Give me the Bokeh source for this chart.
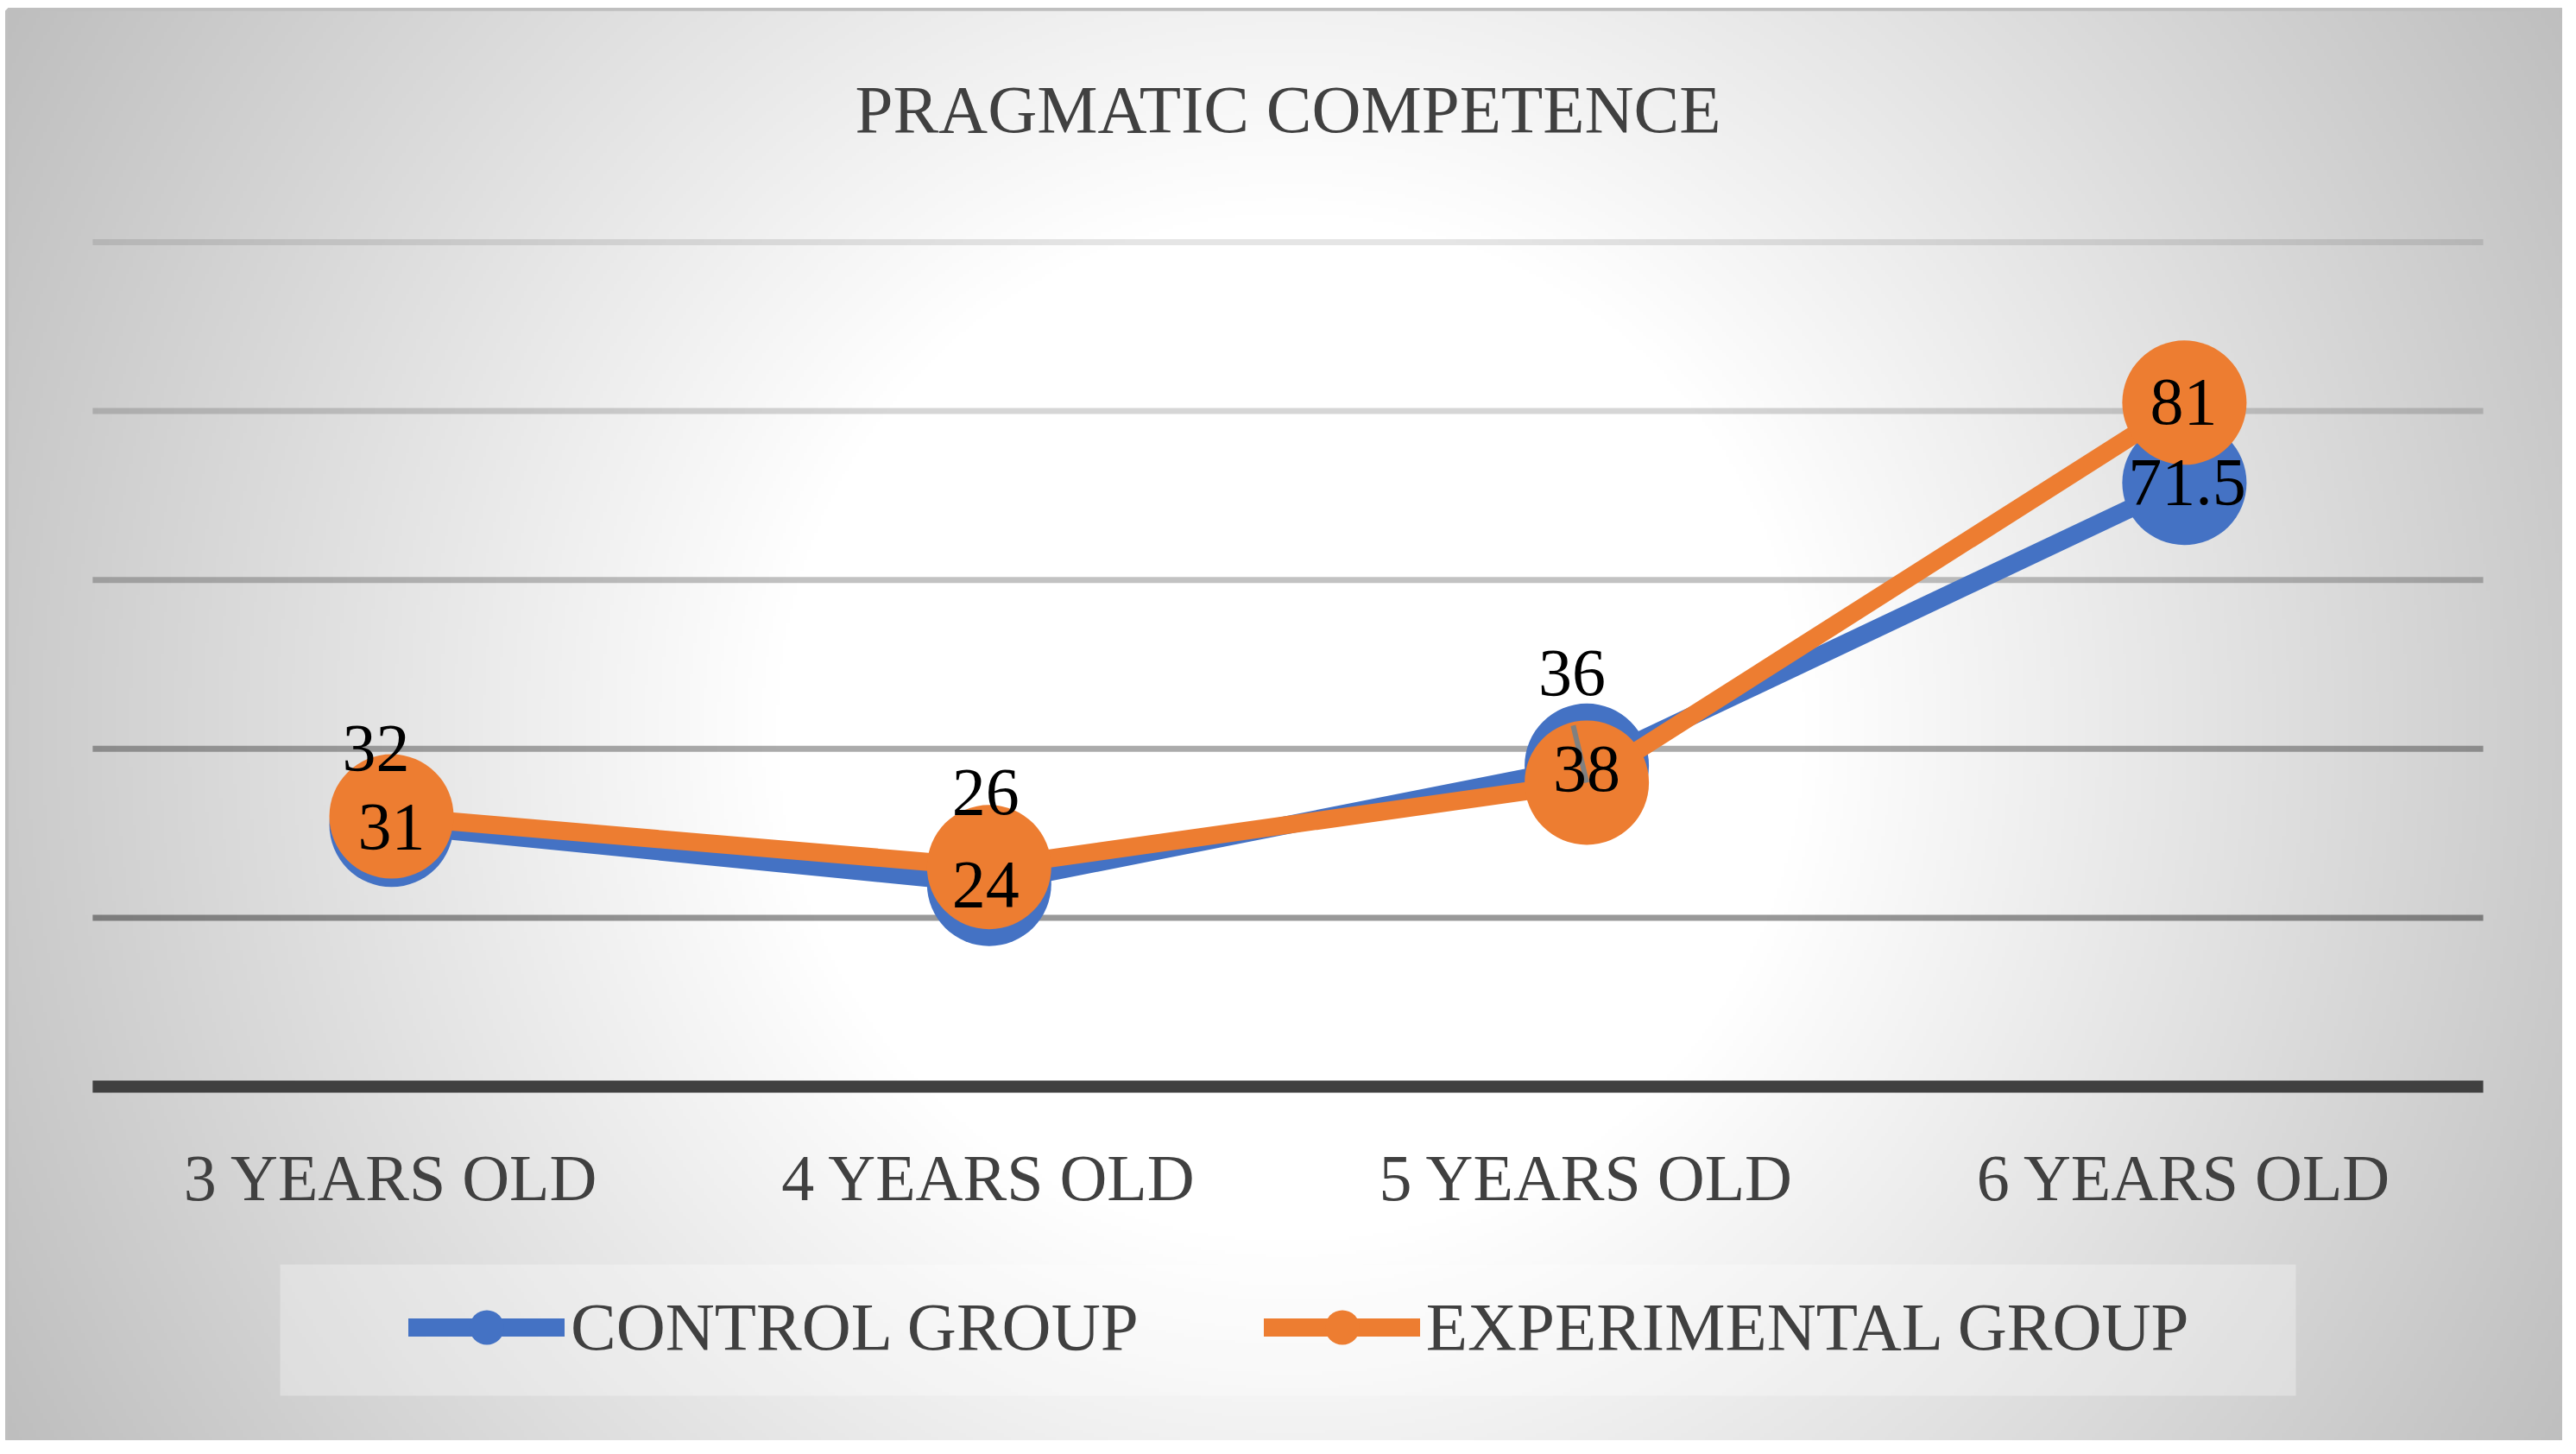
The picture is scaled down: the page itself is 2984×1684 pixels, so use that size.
import numpy as np
from bokeh.plotting import figure
from bokeh.models import ColumnDataSource, Range1d, Legend, LegendItem, BoxAnnotation
from bokeh.core.properties import value
from bokeh.embed import file_html
from bokeh.resources import INLINE

# chart data
title = "PRAGMATIC COMPETENCE"
categories = ["3 YEARS OLD", "4 YEARS OLD", "5 YEARS OLD", "6 YEARS OLD"]
control = [31, 24, 38, 71.5]
experimental = [32, 26, 36, 81]
grid_values = [20, 40, 60, 80, 100]

# layout (pixels)
W, H = 2968, 1668
FL, FT = 9, 12                 # white margin left / top of the chart box
FW, FH = W - FL, H - FT
X0_PX, DX_PX = 444, 692.3      # first category centre inside frame, category step
Y0_PX, DY_PX = 1246, 9.78      # value 0 from frame top, px per unit

BLUE = "#4472C4"
ORANGE = "#ED7D31"
TEXT = "#404040"
FONT = "Liberation Serif"

# label placement (screen px, + is down)
ctrl_dx = [0, -4, 0, 3]
ctrl_dy = [2, 1, 4, -1]
exp_dx = [-18, -4, -17, -1]
exp_dy = [-79, -87, -127, -1]
grid_alpha = [0.40, 0.33, 0.24, 0.16, 0.10]

x_start = -X0_PX / DX_PX
x_end = (FW - X0_PX) / DX_PX
y_start = -(FH - Y0_PX) / DY_PX
y_end = Y0_PX / DY_PX

p = figure(width=W, height=H, x_range=Range1d(x_start, x_end), y_range=Range1d(y_start, y_end),
           x_axis_location=None, y_axis_location=None,
           min_border_left=FL, min_border_top=FT, min_border_right=0, min_border_bottom=0,
           toolbar_location=None, output_backend="svg")
p.grid.visible = False
p.background_fill_color = "#d9d9d9"
p.border_fill_color = "white"
p.outline_line_color = "#bfbfbf"
p.outline_line_width = 7

# radial gradient background (centre of the chart box)
gw, gh = FW // 4, FH // 4
gx, gy = np.meshgrid((np.arange(gw) + 0.5) * FW / gw, (np.arange(gh) + 0.5) * FH / gh)
cx, cy = 1486, 830
d = np.hypot(gx - cx, gy - cy) / np.hypot(cx, cy)
t = np.clip((d - 0.35) / 0.65, 0, 1)
shade = (255 - 65 * t).astype(np.uint8)
img = np.empty((gh, gw), dtype=np.uint32)
view = img.view(dtype=np.uint8).reshape((gh, gw, 4))
view[..., 0] = shade
view[..., 1] = shade
view[..., 2] = shade
view[..., 3] = 255
img = np.ascontiguousarray(img[::-1])
p.image_rgba(image=[img], x=x_start, y=y_start, dw=x_end - x_start, dh=y_end - y_start)

# gridlines and base line
n = len(categories)
p.segment(x0=-0.5, x1=n - 0.5, y0="y", y1="y", line_alpha="a", line_color="black", line_width=7,
          source=ColumnDataSource(dict(y=grid_values, a=grid_alpha)))
p.segment(x0=-0.5, x1=n - 0.5, y0=0, y1=0, line_color=TEXT, line_width=14)

xs = list(range(n))
src_c = ColumnDataSource(dict(x=xs, y=control, lbl=[f"{v:g}" for v in control], dx=ctrl_dx, dy=ctrl_dy))
src_e = ColumnDataSource(dict(x=xs, y=experimental, lbl=[f"{v:g}" for v in experimental], dx=exp_dx, dy=exp_dy))

l1 = p.line("x", "y", source=src_c, line_color=BLUE, line_width=21, line_join="round", line_cap="round")
s1 = p.scatter("x", "y", source=src_c, size=144, fill_color=BLUE, line_color=None)
l2 = p.line("x", "y", source=src_e, line_color=ORANGE, line_width=21, line_join="round", line_cap="round")
s2 = p.scatter("x", "y", source=src_e, size=144, fill_color=ORANGE, line_color=None)

# leader line for the moved label at 5 years
p.ray(x=[2], y=[experimental[2]], length=68, length_units="screen", angle=103.4,
      angle_units="deg", line_color="#808080", line_width=6)

# data labels
for src in (src_c, src_e):
    p.text("x", "y", text="lbl", source=src, x_offset="dx", y_offset="dy",
           text_font=value(FONT), text_font_size="78px", text_color="black",
           text_align="center", text_baseline="alphabetic")

# category labels
p.text(x=xs, y=[0] * n, text=categories, y_offset=105, text_font=value(FONT), text_font_size="76px",
       text_color=TEXT, text_align="center", text_baseline="alphabetic")

# title
p.text(x=[(n - 1) / 2], y=[y_end], text=[title], y_offset=114, text_font=value(FONT),
       text_font_size="79px", text_color=TEXT, text_align="center", text_baseline="alphabetic")

# legend
p.add_layout(BoxAnnotation(left=315, right=2650, bottom=52, top=204, left_units="screen",
                           right_units="screen", bottom_units="screen", top_units="screen",
                           fill_color="white", fill_alpha=0.3, line_alpha=0))
legend = Legend(items=[LegendItem(label="CONTROL GROUP", renderers=[l1, s1]),
                       LegendItem(label="EXPERIMENTAL GROUP", renderers=[l2, s2])],
                orientation="horizontal", location=(464, 81), glyph_width=181, glyph_height=100,
                label_height=100, label_standoff=7, spacing=145, padding=0, margin=0,
                background_fill_alpha=0, border_line_alpha=0, label_text_font=FONT,
                label_text_font_size="79px", label_text_color=TEXT)
p.add_layout(legend)

open("out.html", "w").write(file_html(p, INLINE))
